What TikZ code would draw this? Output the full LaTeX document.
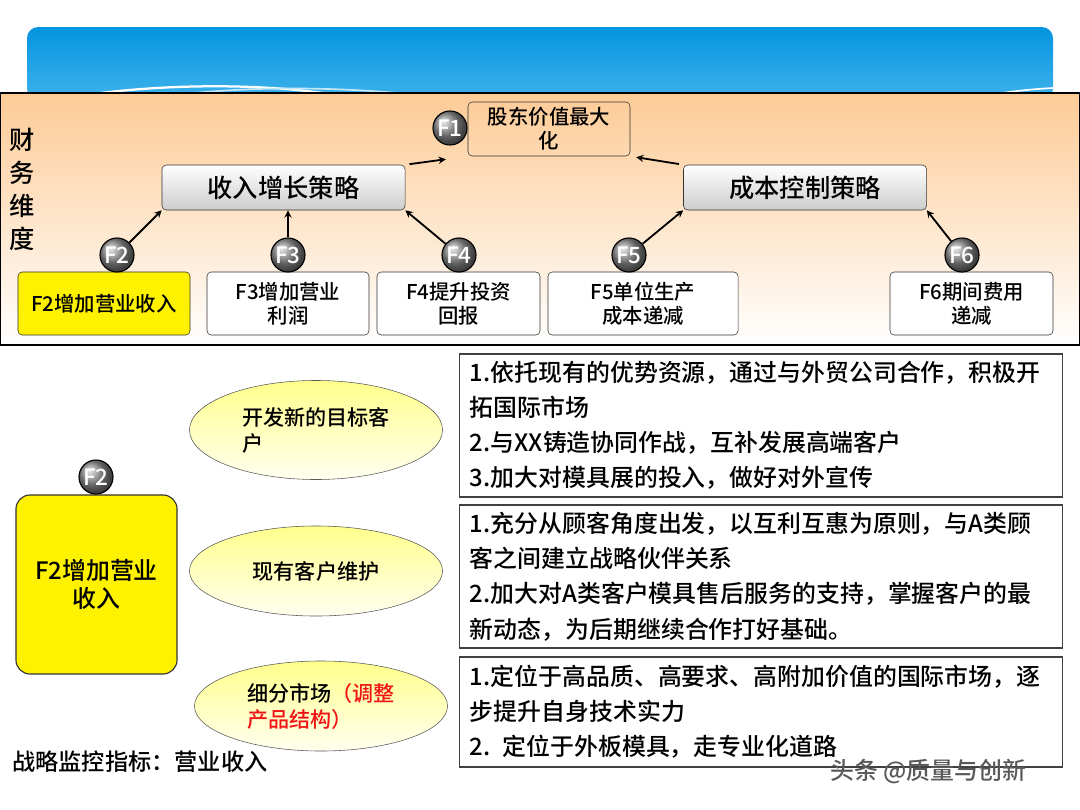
\documentclass[tikz,border=0pt]{standalone}
\usepackage{fontspec}
\setmainfont{Noto Sans CJK SC}[UprightFont=* Medium]
\usetikzlibrary{shapes.geometric, arrows, positioning}
\definecolor{skytop}{RGB}{5,148,224}
\definecolor{skybot}{RGB}{62,178,235}
\definecolor{panelorange}{RGB}{253,203,150}
\definecolor{paleyellow}{RGB}{255,255,140}
\definecolor{markred}{RGB}{240,20,20}
\tikzset{
	fball/.style={circle, draw=black, thick, ball color=black!45, minimum size=0.85cm, inner sep=0pt, text=white, font=\fontsize{16}{16}\selectfont}
}
\tikzset{
	goalbox/.style={draw=black!80, rounded corners=3pt, fill=white, align=center, minimum height=1.575cm, font=\fontsize{14.5}{17}\selectfont},
	stratbox/.style={draw=black!80, rounded corners=3pt, top color=white, bottom color=black!20, minimum width=6.075cm, minimum height=1.125cm, font=\fontsize{18}{18}\selectfont}
}
\tikzset{
	targetellipse/.style={ellipse, draw=black!65, top color=paleyellow, bottom color=yellow!6, minimum width=6.325cm, minimum height=2.25cm, align=left, font=\fontsize{15}{18.5}\selectfont},
	notebox/.style={draw=black!75, thick, minimum width=15.05cm, text width=14.55cm, inner xsep=0.25cm, align=left, font=\fontsize{17}{25}\selectfont}
}

\begin{document}
\begin{tikzpicture}[>=stealth, x=0.025cm, y=-0.025cm]
      \useasboundingbox (0,0) rectangle (1080,810);
      % header band
      \shade[top color=skytop, bottom color=skybot, rounded corners=8pt] (27,27) rectangle (1053,100);
      \draw[white, line width=1.6pt] (55,100) .. controls (140,84) and (250,82) .. (330,94);
      \draw[white!70!skybot, line width=1.2pt] (160,97) .. controls (240,86) and (330,86) .. (420,95);
      \draw[white, line width=1.2pt] (985,96) .. controls (1010,91) and (1035,89) .. (1053,88);
      % financial perspective
      \shade[top color=panelorange, bottom color=white] (0,93) rectangle (1080,345);
      \draw[line width=1.2pt] (0,93) rectangle (1080,345);
      \node[font=\fontsize{18}{23.5}\selectfont, align=center] (dim) at (22,189) {财\\务\\维\\度};

      \node[goalbox, fill=none, minimum width=4.05cm, minimum height=1.35cm] (f1box) at (549,129) {股东价值最大\\化};
      \node[fball] (c1) at (450,128) {F1};
      \node[stratbox] (inc)  at (283.5,187.5) {收入增长策略};
      \node[stratbox] (cost) at (805,187.5) {成本控制策略};

      \node[goalbox, fill=yellow, minimum width=4.3cm] (g2) at (104,303.5) {F2增加营业收入};
      \node[goalbox, minimum width=4.05cm]  (g3) at (288,303.5) {F3增加营业\\利润};
      \node[goalbox, minimum width=4.075cm] (g4) at (458.5,303.5) {F4提升投资\\回报};
      \node[goalbox, minimum width=4.75cm]  (g5) at (643,303.5) {F5单位生产\\成本递减};
      \node[goalbox, minimum width=4.075cm] (g6) at (971.5,303.5) {F6期间费用\\递减};
      \node[fball] (c2) at (117,255) {F2};
      \node[fball] (c3) at (288,255) {F3};
      \node[fball] (c4) at (459,255) {F4};
      \node[fball] (c5) at (629,255) {F5};
      \node[fball] (c6) at (962,255) {F6};

      \draw[->, line width=1.3pt] (c2) -- (inc.south west);
      \draw[->, line width=1.3pt] (c3) -- (c3 |- inc.south);
      \draw[->, line width=1.3pt] (c4) -- (inc.south east);
      \draw[->, line width=1.3pt] (c5) -- (cost.south west);
      \draw[->, line width=1.3pt] (c6) -- (cost.south east);
      \draw[->, line width=1.3pt, shorten <=3pt, shorten >=0.55cm] (inc.north east) -- (f1box.south west);
      \draw[->, line width=1.3pt, shorten <=3pt, shorten >=0.15cm] (cost.north west) -- (f1box.south east);

      % F2 breakdown
      \node[draw=black!80, thick, fill=yellow, rounded corners=10pt, minimum width=4.025cm, minimum height=4.475cm, align=center, font=\fontsize{17}{20}\selectfont] (rev) at (96.5,584.5) {F2增加营业\\收入};
      \node[fball] (d2) at (96,477) {F2};

      \node[targetellipse, minimum height=2.475cm] (e1) at (316,430) {开发新的目标客\\户};
      \node[targetellipse] (e2) at (316,571) {现有客户维护};
      \node[targetellipse] (e3) at (321,706) {细分市场\textcolor{markred}{（调整}\\\textcolor{markred}{产品结构）}};

      \node[notebox, minimum height=3.575cm] (n1) at (761,425.5) {1.依托现有的优势资源，通过与外贸公司合作，积极开\\拓国际市场\\2.与XX铸造协同作战，互补发展高端客户\\3.加大对模具展的投入，做好对外宣传};
      \node[notebox, minimum height=3.575cm] (n2) at (761,576.5) {1.充分从顾客角度出发，以互利互惠为原则，与A类顾\\客之间建立战略伙伴关系\\2.加大对A类客户模具售后服务的支持，掌握客户的最\\新动态，为后期继续合作打好基础。};
      \node[notebox, minimum height=2.75cm] (n3) at (761,712) {1.定位于高品质、高要求、高附加价值的国际市场，逐\\步提升自身技术实力\\2. 定位于外板模具，走专业化道路};

      \node[anchor=west, inner sep=0pt, font=\fontsize{16.5}{20}\selectfont] (kpi) at (12,762) {战略监控指标：营业收入};
      \node[anchor=west, inner sep=0pt, text=black!65, font=\fontsize{17}{20}\selectfont] (mark) at (830,772) {头条 @质量与创新};
    \end{tikzpicture}
\end{document}
